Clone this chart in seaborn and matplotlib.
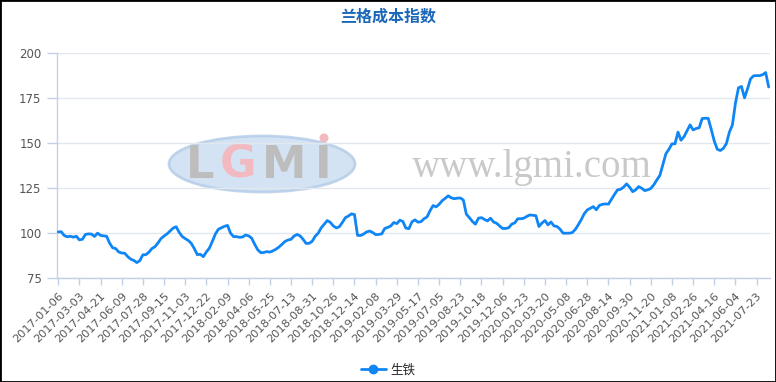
import matplotlib
matplotlib.use("Agg")
import matplotlib.pyplot as plt
import seaborn as sns
import pandas as pd
from matplotlib.lines import Line2D
from matplotlib.patches import Ellipse, Rectangle

# ---------------- data ----------------
title = "兰格成本指数"
series_name = "生铁"

tick_labels = [
    "2017-01-06", "2017-03-03", "2017-04-21", "2017-06-09", "2017-07-28",
    "2017-09-15", "2017-11-03", "2017-12-22", "2018-02-09", "2018-04-06",
    "2018-05-25", "2018-07-13", "2018-08-31", "2018-10-26", "2018-12-14",
    "2019-02-08", "2019-03-29", "2019-05-17", "2019-07-05", "2019-08-23",
    "2019-10-18", "2019-12-06", "2020-01-23", "2020-03-20", "2020-05-08",
    "2020-06-28", "2020-08-14", "2020-09-30", "2020-11-20", "2021-01-08",
    "2021-02-26", "2021-04-16", "2021-06-04", "2021-07-23",
]

values = [
    100.7, 100.8, 98.7, 98.0, 98.3, 97.8, 98.3, 96.3, 96.6, 99.3,
    99.6, 99.5, 98.2, 100.0, 98.8, 98.5, 98.3, 94.5, 91.9, 91.5,
    89.6, 89.0, 88.9, 87.0, 85.6, 84.9, 83.7, 84.8, 88.0, 88.1,
    89.5, 91.5, 92.5, 94.6, 97.0, 98.4, 99.6, 101.2, 102.8, 103.6,
    100.5, 98.2, 97.0, 96.0, 94.4, 91.5, 88.1, 88.3, 87.0, 89.6,
    91.7, 95.5, 99.6, 102.2, 103.0, 103.8, 104.3, 100.0, 98.1, 98.1,
    97.7, 97.9, 99.0, 98.5, 97.2, 93.8, 90.8, 89.2, 89.3, 89.8,
    89.5, 90.2, 91.1, 92.3, 93.8, 95.4, 96.2, 96.6, 98.4, 99.3,
    98.5, 96.6, 94.3, 94.4, 95.5, 98.3, 100.0, 103.0, 105.0, 107.0,
    106.0, 104.0, 102.9, 103.6, 106.0, 108.6, 109.5, 110.7, 110.3, 98.8,
    98.7, 99.5, 100.7, 101.2, 100.4, 99.2, 99.3, 99.6, 102.6, 103.2,
    104.0, 105.9, 105.3, 107.2, 106.5, 102.8, 102.5, 106.3, 107.4, 106.1,
    106.4, 108.0, 109.0, 112.5, 115.3, 114.6, 116.0, 118.0, 119.3, 120.7,
    119.6, 119.1, 119.4, 119.5, 118.4, 110.5, 108.6, 106.5, 105.0, 108.3,
    108.6, 107.6, 106.8, 108.3, 106.2, 105.5, 104.0, 102.6, 102.6, 103.0,
    105.0, 105.7, 108.0, 108.0, 108.3, 109.3, 110.1, 109.9, 109.7, 103.7,
    105.6, 107.0, 104.6, 106.2, 104.0, 103.7, 102.2, 100.0, 100.0, 100.0,
    100.3, 102.0, 104.6, 107.5, 110.8, 112.9, 113.8, 114.7, 113.0, 115.4,
    116.0, 116.2, 116.1, 118.8, 121.5, 124.0, 124.3, 125.5, 127.3, 125.5,
    123.0, 124.0, 125.8, 124.9, 123.6, 124.0, 124.8, 126.8, 129.5, 132.0,
    138.0, 144.0, 146.5, 149.5, 149.5, 156.0, 151.5, 153.5, 156.8, 160.0,
    157.2, 158.0, 158.4, 163.5, 163.7, 163.6, 157.5, 151.0, 146.5, 145.8,
    147.0, 149.6, 156.0, 160.0, 172.0, 180.5, 181.3, 175.0, 180.0, 185.5,
    187.2, 187.3, 187.3, 187.8, 189.0, 181.0,
]

y_ticks = [75, 100, 125, 150, 175, 200]
label_step = 7

# ---------------- styling ----------------
sns.set_theme(style="white")
plt.rcParams["font.family"] = ["Noto Sans CJK SC", "DejaVu Sans"]

W, H = 776, 382
fig = plt.figure(figsize=(W / 100, H / 100), dpi=100)
fig.patch.set_facecolor("white")

ax_left, ax_right = 56.7, 770.2
ax_top, ax_bottom = 52.7, 278.3
ax = fig.add_axes([ax_left / W, 1 - ax_bottom / H,
                   (ax_right - ax_left) / W, (ax_bottom - ax_top) / H])

line_color = "#0f86f5"
axis_color = "#c3d1e6"
grid_color = "#e3e7ee"
label_color = "#555555"

df = pd.DataFrame({"idx": range(len(values)), "value": values})
sns.lineplot(data=df, x="idx", y="value", ax=ax, color=line_color,
             linewidth=2.0, zorder=3)

ax.set_xlim(-0.5, len(values) - 0.5)
ax.set_ylim(min(y_ticks), max(y_ticks))
ax.set_yticks(y_ticks)
ax.set_yticklabels([str(v) for v in y_ticks])
ax.set_xticks(list(range(0, len(values), label_step))[:len(tick_labels)])
ax.set_xticklabels(tick_labels)
ax.set_xlabel("")
ax.set_ylabel("")

for yv in y_ticks:
    ax.axhline(yv, color=grid_color, lw=1.0, zorder=1)

for s in ["top", "right"]:
    ax.spines[s].set_visible(False)
for s in ["left", "bottom"]:
    ax.spines[s].set_color(axis_color)
    ax.spines[s].set_linewidth(1.0)

ax.tick_params(axis="y", direction="out", length=7, width=1, color=axis_color,
               pad=4, labelsize=8.5, labelcolor=label_color, left=True)
ax.tick_params(axis="x", direction="out", length=5, width=1, color=axis_color,
               pad=4, labelsize=8.2, labelcolor=label_color, bottom=True)
for t in ax.get_xticklabels():
    t.set_rotation(45)
    t.set_ha("right")
    t.set_va("top")
    t.set_rotation_mode("anchor")
for t in ax.get_yticklabels():
    t.set_family(["DejaVu Sans"])
for t in ax.get_xticklabels():
    t.set_family(["DejaVu Sans"])

# ---------------- watermark ----------------
def fx(px):
    return (px - ax_left) / (ax_right - ax_left)

def fy(py):
    return (ax_bottom - py) / (ax_bottom - ax_top)

ell = Ellipse((fx(262), fy(164)), width=186 / (ax_right - ax_left),
              height=56 / (ax_bottom - ax_top), transform=ax.transAxes,
              facecolor="#cddff2", edgecolor="#b5cde9", lw=2.0, alpha=0.85,
              zorder=0)
ax.add_patch(ell)
for ch, cx, col in [("L", 200, "#bdbdbd"), ("G", 238, "#f3b9c0"),
                    ("M", 284, "#bdbdbd"), ("I", 323, "#bdbdbd")]:
    ax.text(fx(cx), fy(165), ch, transform=ax.transAxes, ha="center",
            va="center", fontsize=32, fontweight="bold", color=col,
            family=["DejaVu Sans"], zorder=0.5)
ax.add_patch(Ellipse((fx(324), fy(138)), width=9 / (ax_right - ax_left),
                     height=9 / (ax_bottom - ax_top), transform=ax.transAxes,
                     facecolor="#f3b9c0", edgecolor="none", zorder=0.5))
ax.text(fx(532), fy(168), "www.lgmi.com", transform=ax.transAxes,
        ha="center", va="center", fontsize=28, color="#c9c9c9",
        family=["Liberation Serif"], zorder=0.5)

# ---------------- title ----------------
fig.text(0.5, 1 - 17 / H, title, ha="center", va="center", fontsize=11.5,
         fontweight="bold", color="#1a66b8")

# ---------------- legend ----------------
handle = Line2D([0], [0], color=line_color, lw=2.0, marker="o",
                markersize=6, markerfacecolor=line_color,
                markeredgecolor=line_color)
fig.legend([handle], [series_name], loc="center", ncol=1,
           bbox_to_anchor=(0.5, 1 - 370 / H), frameon=False, fontsize=9,
           handlelength=2.0, handletextpad=0.4, borderaxespad=0)

# ---------------- border ----------------
fig.patches.append(Rectangle((0, 0), 1, 1, transform=fig.transFigure,
                             fill=False, edgecolor="black", lw=2.0,
                             zorder=10))

fig.savefig("out.png", dpi=100)
